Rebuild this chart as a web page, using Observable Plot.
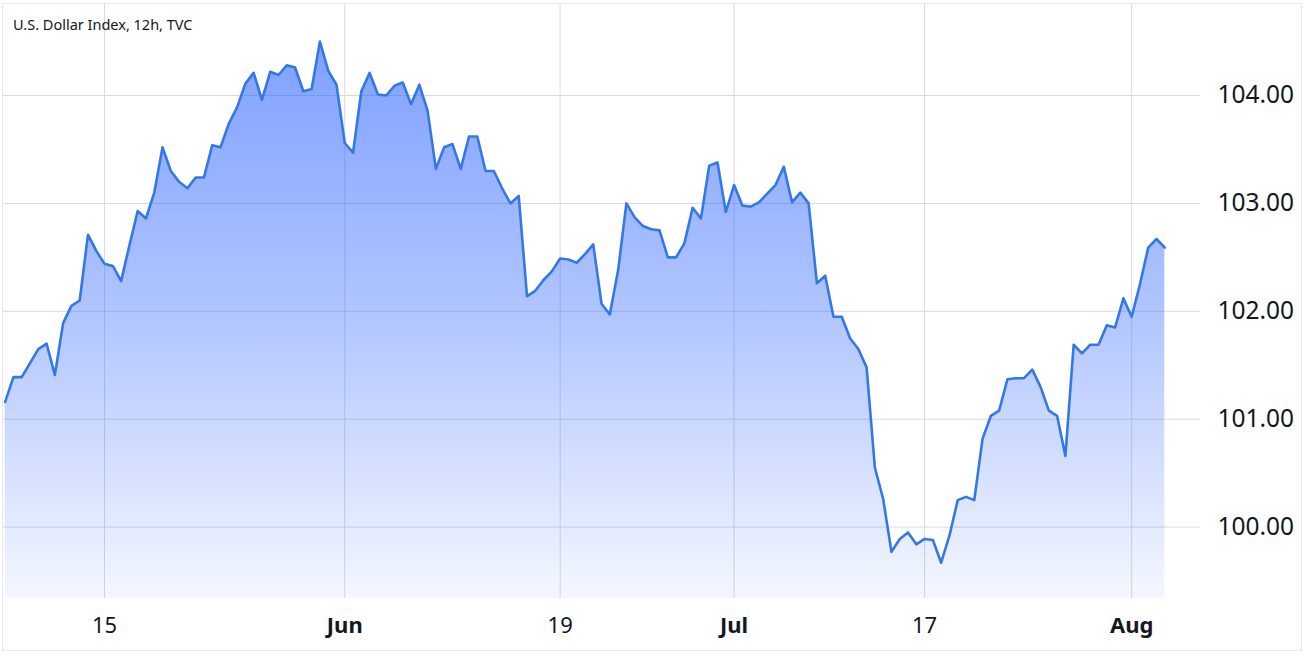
<!DOCTYPE html>
<html>
<head>
<meta charset="utf-8">
<script src="https://cdn.jsdelivr.net/npm/d3@7"></script>
<script src="https://cdn.jsdelivr.net/npm/@observablehq/plot@0.6"></script>
<style>
  html, body { margin: 0; padding: 0; background: #fff; }
  #wrap { position: relative; width: 1304px; height: 654px; overflow: hidden; font-family: "Noto Sans", "Open Sans", sans-serif; }
  #wrap svg { position: absolute; left: 0; top: 0; }
  #title { position: absolute; left: 13px; top: 14px; font-size: 14.5px; color: #131722; font-family: "Noto Sans", sans-serif; white-space: nowrap; }
  #frame { position: absolute; left: 2px; top: 3px; width: 1300px; height: 648px; border: 1px solid #e6e8ee; box-sizing: border-box; pointer-events: none; }
</style>
</head>
<body>
<div id="wrap">
  <div id="chart"></div>
  <div id="title">U.S. Dollar Index, 12h, TVC</div>
  <div id="frame"></div>
</div>
<script>
// U.S. Dollar Index, 12h bars (one value per bar, in order)
const closes = [
  101.16, 101.39, 101.39, 101.52, 101.65, 101.70, 101.41, 101.89, 102.05, 102.10,
  102.71, 102.56, 102.44, 102.42, 102.28, 102.61, 102.93, 102.86, 103.10, 103.52,
  103.30, 103.20, 103.14, 103.24, 103.24, 103.54, 103.52, 103.74, 103.89, 104.11,
  104.21, 103.96, 104.22, 104.19, 104.28, 104.26, 104.04, 104.06, 104.50, 104.23,
  104.10, 103.56, 103.47, 104.04, 104.21, 104.01, 104.00, 104.09, 104.12, 103.92,
  104.10, 103.86, 103.32, 103.52, 103.55, 103.32, 103.62, 103.62, 103.30, 103.30,
  103.14, 103.00, 103.07, 102.14, 102.19, 102.29, 102.37, 102.49, 102.48, 102.45,
  102.53, 102.62, 102.07, 101.97, 102.38, 103.00, 102.87, 102.79, 102.76, 102.75,
  102.50, 102.50, 102.63, 102.96, 102.86, 103.35, 103.38, 102.92, 103.17, 102.98,
  102.97, 103.01, 103.09, 103.17, 103.34, 103.01, 103.10, 103.00, 102.26, 102.33,
  101.95, 101.95, 101.75, 101.65, 101.48, 100.55, 100.26, 99.77, 99.89, 99.95,
  99.84, 99.89, 99.88, 99.67, 99.92, 100.25, 100.28, 100.25, 100.82, 101.03,
  101.08, 101.37, 101.38, 101.38, 101.46, 101.30, 101.08, 101.03, 100.66, 101.69,
  101.61, 101.69, 101.69, 101.87, 101.85, 102.12, 101.95, 102.25, 102.59, 102.67,
  102.59
];
// time-axis ticks (bar index where the label sits)
const tickIndex  = [12, 41, 67, 88, 111, 136];
const tickLabels = ["15", "Jun", "19", "Jul", "17", "Aug"];
const tickBold   = [false, true, false, true, false, true];
// price-axis ticks
const priceTicks = [100, 101, 102, 103, 104];

const data = closes.map((v, i) => ({i, v}));
const ticks = tickIndex.map((t, k) => ({t, label: tickLabels[k], bold: tickBold[k]}));

const W = 1304, H = 654;
const yLo = 99.338, yHi = 104.853;
const xLo = -0.2, xHi = 144.31;

const plot = Plot.plot({
  width: W,
  height: H,
  marginLeft: 3,
  marginRight: 104,
  marginTop: 3,
  marginBottom: 56,
  style: {fontFamily: "'Noto Sans', 'Open Sans', sans-serif", background: "transparent", overflow: "visible"},
  x: {type: "linear", domain: [xLo, xHi], axis: null},
  y: {domain: [yLo, yHi], axis: null},
  marks: [
    Plot.ruleY(priceTicks, {stroke: "#d6d9e0", strokeWidth: 1}),
    Plot.ruleX(tickIndex, {stroke: "#d6d9e0", strokeWidth: 1}),
    Plot.areaY(data, {x: "i", y1: () => yLo, y2: "v", fill: "url(#areaGrad)", curve: "linear"}),
    Plot.lineY(data, {x: "i", y: "v", stroke: "#3478e6", strokeWidth: 2.6, strokeLinejoin: "round", curve: "linear"}),
    Plot.text(priceTicks, {
      x: () => xHi, y: d => d, text: d => d.toFixed(2),
      textAnchor: "start", dx: 17, fontSize: 24.5, fill: "#131722", clip: false
    }),
    Plot.text(ticks.filter(d => !d.bold), {
      x: "t", text: "label", frameAnchor: "bottom", dy: 27,
      fontSize: 22, fill: "#131722", lineAnchor: "middle"
    }),
    Plot.text(ticks.filter(d => d.bold), {
      x: "t", text: "label", frameAnchor: "bottom", dy: 27,
      fontSize: 22, fontWeight: "bold", fill: "#131722", lineAnchor: "middle"
    })
  ]
});

// gradient for the area fill
const ns = "http://www.w3.org/2000/svg";
const defs = document.createElementNS(ns, "defs");
defs.innerHTML = `<linearGradient id="areaGrad" x1="0" y1="0" x2="0" y2="1">
  <stop offset="0" stop-color="rgb(41,98,255)" stop-opacity="0.6"/>
  <stop offset="0.5" stop-color="rgb(41,98,255)" stop-opacity="0.36"/>
  <stop offset="1" stop-color="rgb(41,98,255)" stop-opacity="0.05"/>
</linearGradient>`;
plot.insertBefore(defs, plot.firstChild);
document.getElementById("chart").appendChild(plot);
</script>
</body>
</html>
